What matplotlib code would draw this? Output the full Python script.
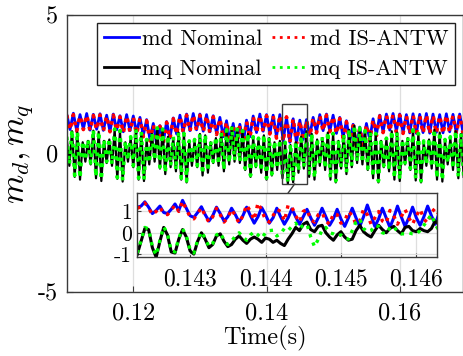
import numpy as np
import matplotlib
matplotlib.use("Agg")
import matplotlib.pyplot as plt
from matplotlib.patches import Rectangle, ConnectionPatch

plt.rcParams['font.family'] = ['cmr10', 'DejaVu Serif']
plt.rcParams['mathtext.fontset'] = 'cm'
plt.rcParams['axes.unicode_minus'] = False

# ---------------- data ----------------
# main view: md sampled every 0.5 ms, mq every 0.4 ms
t_md_start, t_md_step = 0.110, 0.0005
md_nominal = [
    1.42, 0.86, 1.45, 0.82, 1.40, 0.88, 1.44, 0.84, 1.41, 0.87,
    1.43, 0.83, 1.38, 0.80, 1.42, 0.85, 1.36, 0.78, 1.40, 0.82,
    1.35, 0.75, 1.30, 0.65, 1.22, 0.50, 1.08, 0.32, 1.00, 0.40,
    1.15, 0.55, 1.28, 0.70, 1.38, 0.78, 1.42, 0.82, 1.44, 0.85,
    1.42, 0.80, 1.40, 0.78, 1.36, 0.72, 1.30, 0.60, 1.18, 0.42,
    1.08, 0.25, 1.05, 0.35, 1.20, 0.60, 1.35, 0.75, 1.42, 0.80,
    1.40, 0.72, 1.38, 0.60, 1.40, 0.45, 1.30, 0.40, 1.25, 0.38,
    1.20, 0.50, 1.22, 0.65, 1.30, 0.78, 1.40, 0.82, 1.42, 0.80,
    1.38, 0.72, 1.30, 0.58, 1.18, 0.42, 1.05, 0.25, 0.95, 0.30,
    1.08, 0.50, 1.25, 0.68, 1.38, 0.78, 1.42, 0.84, 1.44, 0.80,
    1.42, 0.76, 1.40, 0.74, 1.43, 0.72, 1.41, 0.75, 1.44, 0.73,
    1.42, 0.76, 1.40, 0.74, 1.43, 0.78, 1.41, 0.72, 1.42, 0.76]
md_isantw = [
    1.38, 0.84, 1.40, 0.80, 1.36, 0.86, 1.39, 0.82, 1.37, 0.85,
    1.39, 0.80, 1.35, 0.78, 1.38, 0.82, 1.32, 0.74, 1.36, 0.78,
    1.30, 0.70, 1.26, 0.60, 1.18, 0.45, 1.04, 0.28, 0.98, 0.38,
    1.12, 0.52, 1.25, 0.68, 1.35, 0.76, 1.38, 0.80, 1.40, 0.82,
    1.38, 0.78, 1.36, 0.74, 1.32, 0.68, 1.26, 0.55, 1.14, 0.38,
    1.04, 0.22, 1.02, 0.32, 1.16, 0.56, 1.32, 0.72, 1.38, 0.78,
    1.36, 0.70, 1.35, 0.55, 1.38, 0.42, 1.32, 0.38, 1.26, 0.35,
    1.18, 0.46, 1.20, 0.62, 1.28, 0.74, 1.36, 0.80, 1.38, 0.78,
    1.34, 0.70, 1.26, 0.55, 1.14, 0.38, 1.00, 0.22, 0.92, 0.28,
    1.04, 0.46, 1.22, 0.64, 1.35, 0.75, 1.38, 0.80, 1.40, 0.76,
    1.38, 0.72, 1.36, 0.70, 1.39, 0.70, 1.37, 0.72, 1.40, 0.70,
    1.38, 0.72, 1.36, 0.70, 1.39, 0.74, 1.37, 0.70, 1.38, 0.72]

t_mq_start, t_mq_step = 0.110, 0.0004
mq_nominal = [
    0.55, -0.45, 0.80, -0.85, 0.75, -0.95, 0.40, -0.30,
    0.45, -0.40, 0.82, -0.90, 0.78, -1.00, 0.45, -0.35,
    0.50, -0.45, 0.85, -0.92, 0.80, -1.02, 0.40, -0.30,
    0.55, -0.50, 0.85, -0.95, 0.75, -1.00, 0.45, -0.40,
    0.70, -0.30, 0.90, -0.55, 0.85, -0.75, 0.60, -0.50,
    0.55, -0.65, 0.75, -0.95, 0.70, -1.05, 0.40, -0.45,
    0.45, -0.50, 0.70, -0.80, 0.65, -0.70, 0.40, -0.35,
    0.55, -0.45, 0.72, -0.65, 0.80, -0.40, 0.95, -0.30,
    0.90, -0.35, 0.80, -0.60, 0.70, -0.85, 0.55, -0.50,
    0.50, -0.70, 0.65, -0.95, 0.55, -0.80, 0.40, -0.60,
    0.45, -0.90, 0.35, -1.10, 0.30, -1.05, 0.40, -0.70,
    0.60, -0.55, 0.80, -0.85, 0.70, -0.95, 0.50, -0.45,
    0.55, -0.60, 0.75, -0.95, 0.70, -1.05, 0.45, -0.55,
    0.65, -0.75, 0.85, -0.50, 1.00, -0.35, 0.90, -0.40,
    0.80, -0.60, 0.75, -0.90, 0.70, -1.05, 0.45, -0.50,
    0.50, -0.65, 0.80, -0.95, 0.75, -1.00, 0.45, -0.40,
    0.55, -0.60, 0.82, -0.98, 0.70, -1.05, 0.40, -0.45,
    0.50, -0.55, 0.85, -0.95, 0.75, -1.02, 0.45, -0.40,
    0.55, -0.60, 0.80, -0.90, 0.70, -0.85]
mq_isantw = [
    0.60, -0.40, 0.85, -0.80, 0.78, -0.90, 0.45, -0.25,
    0.50, -0.35, 0.86, -0.85, 0.80, -0.95, 0.50, -0.30,
    0.55, -0.40, 0.88, -0.88, 0.82, -0.98, 0.45, -0.25,
    0.60, -0.45, 0.88, -0.90, 0.78, -0.95, 0.50, -0.35,
    0.75, -0.25, 0.92, -0.50, 0.88, -0.70, 0.65, -0.45,
    0.60, -0.60, 0.78, -0.90, 0.72, -1.00, 0.45, -0.40,
    0.50, -0.45, 0.72, -0.75, 0.68, -0.65, 0.45, -0.30,
    0.60, -0.40, 0.75, -0.60, 0.85, -0.35, 0.98, -0.25,
    0.92, -0.30, 0.82, -0.55, 0.72, -0.80, 0.60, -0.45,
    0.55, -0.65, 0.68, -0.90, 0.58, -0.75, 0.45, -0.55,
    0.50, -0.85, 0.40, -1.05, 0.35, -1.00, 0.45, -0.65,
    0.65, -0.50, 0.82, -0.80, 0.72, -0.90, 0.55, -0.40,
    0.60, -0.55, 0.78, -0.90, 0.72, -1.00, 0.50, -0.50,
    0.70, -0.70, 0.88, -0.45, 1.02, -0.30, 0.92, -0.35,
    0.82, -0.55, 0.78, -0.85, 0.72, -1.00, 0.50, -0.45,
    0.55, -0.60, 0.82, -0.90, 0.78, -0.95, 0.50, -0.35,
    0.60, -0.55, 0.85, -0.92, 0.72, -1.00, 0.45, -0.40,
    0.55, -0.50, 0.88, -0.90, 0.78, -0.98, 0.50, -0.35,
    0.60, -0.55, 0.82, -0.85, 0.72, -0.80]

# zoomed view: sampled every 0.05 ms from 0.1423 s
t_zoom_start, t_zoom_step = 0.1423, 0.00005
zoom_md_nominal = [
    1.20, 1.25, 1.45, 1.20, 0.90, 1.05, 1.25, 0.95, 0.90, 1.10,
    1.35, 1.05, 1.52, 1.15, 0.80, 0.72, 0.95, 1.22, 0.85, 0.55,
    0.80, 1.20, 0.90, 0.55, 0.75, 1.15, 0.85, 0.50, 0.80, 1.20,
    0.80, 0.45, 0.75, 1.18, 0.85, 0.45, 0.70, 1.15, 0.75, 0.40,
    0.70, 1.12, 0.75, 0.40, 0.75, 1.10, 0.70, 0.35, 0.70, 1.15,
    0.75, 0.35, 0.65, 1.10, 0.65, 0.30, 0.70, 1.15, 0.70, 0.30,
    0.75, 1.30, 0.80, 0.30, 0.65, 1.15, 0.70, 0.25, 0.70, 1.25,
    0.75, 0.30, 0.70, 1.20, 0.70, 0.35, 0.75, 1.25, 0.80, 0.40,
    0.90]
zoom_md_isantw = [
    1.15, 1.22, 1.40, 1.15, 0.85, 1.00, 1.20, 0.90, 0.85, 1.05,
    1.30, 1.00, 1.48, 1.10, 0.75, 0.65, 0.90, 1.18, 0.80, 0.50,
    0.75, 1.15, 0.85, 0.50, 0.70, 1.10, 0.80, 0.45, 0.80, 1.30,
    1.00, 0.60, 1.40, 1.05, 0.60, 0.50, 0.80, 1.10, 1.00, 0.55,
    1.30, 1.20, 0.80, 0.50, 1.00, 1.10, 0.60, 0.50, 0.85, 0.95,
    0.55, 0.40, 0.90, 0.85, 0.45, 0.55, 1.00, 0.80, 0.40, 0.55,
    1.10, 0.85, 0.40, 0.70, 1.00, 0.55, 0.45, 1.05, 0.80, 0.40,
    0.75, 1.10, 0.70, 0.40, 0.80, 1.10, 0.65, 0.45, 0.95, 1.15,
    0.85]
zoom_mq_nominal = [
    -1.00, -0.40, 0.20, 0.15, -0.70, -1.15, -0.40, 0.25, -0.10, -0.90,
    -0.95, -0.30, 0.15, -0.20, -0.85, -1.00, -0.40, 0.00, -0.30, -0.70,
    -0.55, -0.15, -0.05, -0.40, -0.65, -0.55, -0.30, -0.15, -0.35, -0.50,
    -0.30, -0.20, -0.30, -0.45, -0.25, -0.30, -0.45, -0.35, -0.50, -0.60,
    -0.30, -0.05, 0.25, 0.10, 0.40, 0.50, 0.15, 0.05, 0.30, 0.35,
    0.00, -0.20, -0.35, -0.10, 0.05, -0.20, -0.35, -0.30, 0.10, 0.35,
    0.05, -0.10, -0.20, 0.10, 0.35, 0.15, 0.00, 0.20, 0.30, 0.10,
    -0.05, 0.25, 0.30, 0.10, 0.05, 0.20, 0.10, 0.05, 0.20, 0.55,
    0.40]
zoom_mq_isantw = [
    -0.95, -0.35, 0.25, 0.18, -0.65, -1.05, -0.35, 0.28, -0.05, -0.85,
    -0.90, -0.25, 0.18, -0.15, -0.80, -0.95, -0.35, 0.05, -0.25, -0.65,
    -0.50, -0.10, 0.00, -0.35, -0.55, -0.40, -0.15, 0.00, -0.20, -0.35,
    -0.10, 0.05, -0.10, -0.25, 0.00, 0.10, 0.12, -0.15, -0.05, 0.20,
    0.10, 0.30, 0.45, 0.20, 0.35, 0.40, -0.20, -0.65, -0.30, 0.15,
    0.25, 0.00, -0.05, -0.15, -0.10, -0.25, -0.30, 0.10, 0.50, 0.65,
    0.20, 0.05, 0.10, 0.35, 0.30, 0.00, -0.05, 0.25, 0.30, 0.05,
    -0.05, -0.05, 0.00, -0.05, -0.05, 0.10, 0.35, 0.60, 0.85, 0.40,
    0.10]

labels = ["md Nominal", "md IS-ANTW", "mq Nominal", "mq IS-ANTW"]
xticks_main = [0.12, 0.14, 0.16]
xticklabels_main = ["0.12", "0.14", "0.16"]
yticks_main = [-5, 0, 5]
yticklabels_main = ["-5", "0", "5"]
xticks_zoom = [0.143, 0.144, 0.145, 0.146]
xticklabels_zoom = ["0.143", "0.144", "0.145", "0.146"]
yticks_zoom = [-1, 0, 1]
yticklabels_zoom = ["-1", "0", "1"]

t_md = t_md_start + t_md_step * np.arange(len(md_nominal))
t_mq = t_mq_start + t_mq_step * np.arange(len(mq_nominal))
t_zoom = t_zoom_start + t_zoom_step * np.arange(len(zoom_md_nominal))

# ---------------- figure ----------------
W, H = 464, 356
fig = plt.figure(figsize=(W / 100, H / 100), dpi=100)
spine_c = '#3a3a3a'
grid_c = '#dedede'
FS = 17.5

ax = fig.add_axes([66.7 / W, 1 - 291.7 / H, (463 - 66.7) / W, (291.7 - 15) / H])
l1, = ax.plot(t_md, md_nominal, color='#0000ff', lw=2.0, ls='-')
l2, = ax.plot(t_md, md_isantw, color='#ff0000', lw=2.6, ls=':')
l3, = ax.plot(t_mq, mq_nominal, color='black', lw=1.6, ls='-')
l4, = ax.plot(t_mq, mq_isantw, color='#00ff00', lw=2.6, ls=':')
ax.set_xlim(0.11, 0.1695)
ax.set_ylim(-5, 5)
ax.set_xticks(xticks_main, xticklabels_main)
ax.set_yticks(yticks_main, yticklabels_main)
ax.tick_params(direction='in', labelsize=FS, color=spine_c, length=4)
ax.tick_params(axis='x', pad=8)
ax.tick_params(axis='y', pad=6)
ax.grid(True, color=grid_c, lw=0.9)
for s in ax.spines.values():
    s.set_color(spine_c)
    s.set_linewidth(1.0)
ax.set_xlabel("Time(s)", fontsize=FS, labelpad=1)
ax.set_ylabel(r"$m_d, m_q$", fontsize=24, labelpad=2)

leg = ax.legend([l1, l3, l2, l4], [labels[0], labels[2], labels[1], labels[3]],
                ncol=2, loc='upper right', bbox_to_anchor=(0.98, 0.971),
                borderaxespad=0, fancybox=False, framealpha=1, edgecolor='#222222',
                fontsize=16, handlelength=1.6, handletextpad=0.1, columnspacing=0.45,
                labelspacing=0.45, borderpad=0.3)
leg.get_frame().set_linewidth(1.0)
for h in leg.get_lines():
    h.set_linewidth(2.0)

# zoom rectangle
ax.add_patch(Rectangle((0.14225, -1.1), 0.00385, 2.9, fill=False,
                       edgecolor=spine_c, lw=1.0, zorder=5))

# inset
axi = fig.add_axes([137.3 / W, 1 - 257.3 / H, (436.7 - 137.3) / W, (257.3 - 193.3) / H])
axi.plot(t_zoom, zoom_md_nominal, color='#0000ff', lw=2.2, ls='-')
axi.plot(t_zoom, zoom_md_isantw, color='#ff0000', lw=2.4, ls=':')
axi.plot(t_zoom, zoom_mq_nominal, color='black', lw=2.2, ls='-')
axi.plot(t_zoom, zoom_mq_isantw, color='#00ff00', lw=2.4, ls=':')
axi.set_xlim(0.1423, 0.14627)
axi.set_ylim(-1.15, 1.85)
axi.set_xticks(xticks_zoom, xticklabels_zoom)
axi.set_yticks(yticks_zoom, yticklabels_zoom)
axi.tick_params(direction='in', color=spine_c, length=3)
axi.tick_params(axis='x', labelsize=17, pad=8)
axi.tick_params(axis='y', labelsize=15.5, pad=4)
axi.grid(True, color=grid_c, lw=0.9)
for s in axi.spines.values():
    s.set_color(spine_c)
    s.set_linewidth(1.0)

con = ConnectionPatch(xyA=(0.14424, -1.1), coordsA=ax.transData,
                      xyB=(0.503, 1.0), coordsB=axi.transAxes,
                      color=spine_c, lw=1.0)
fig.add_artist(con)

fig.savefig("out.png", dpi=100)
